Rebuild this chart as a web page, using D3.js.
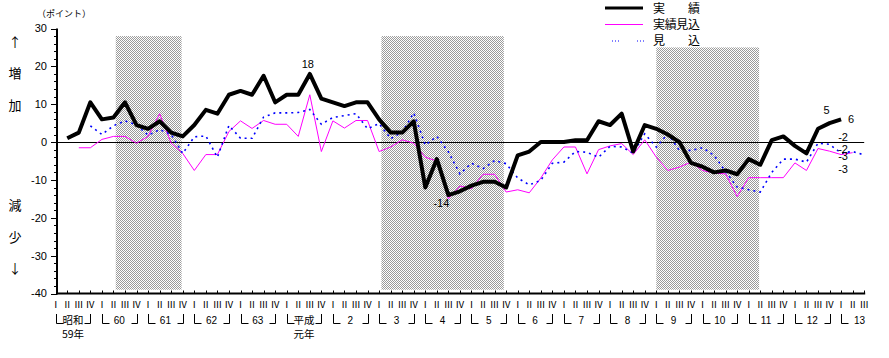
<!DOCTYPE html>
<html><head><meta charset="utf-8">
<script src="https://cdn.jsdelivr.net/npm/d3@7"></script>
<style>body{margin:0;background:#fff} svg{display:block}</style>
</head><body>
<svg id="c" width="889" height="358"></svg>
<script>
// ---- data ----
const eraYears = ["昭和","60","61","62","63","平成","2","3","4","5","6","7","8","9","10","11","12","13"];
const eraSub   = ["59年","","","","","元年","","","","","","","","","","","",""];
const quarterLabels = ["Ⅰ","Ⅱ","Ⅲ","Ⅳ"];
const quartersInLastYear = 3;
const yTicks = [30,20,10,0,-10,-20,-30,-40];

// 実績 (actual)
const actual = [null,1,2.5,10.5,6,6.5,10.5,4.5,3.5,5.5,2.5,1.5,4.5,8.5,7.5,12.5,13.5,12.5,17.5,10.5,12.5,12.5,18,11.5,10.5,9.5,10.5,10.5,6,2.5,2.5,5.5,-12,-4.5,-14,-13,-11.5,-10.5,-10.5,-12,-3.5,-2.5,0,0,0,0.5,0.5,5.5,4.5,7.5,-2.5,4.5,3.5,2,0,-5.5,-6.5,-8,-7.5,-8.5,-4.5,-6,0.5,1.5,-1,-3,3.5,5,6,null,null];
// 実績見込 (estimate)
const estimate = [null,null,-1.5,-1.5,0.7,1.5,1.5,-0.3,1.5,7.5,-0.3,-3,-7.5,-3.3,-3.3,2.8,5.6,3.6,5.7,4.7,4.7,1.5,12.5,-2.5,5.6,3.7,5.7,5.7,-2.5,-1.3,0.6,-0.3,-4,-5,-15,-11.6,-12.3,-8.5,-8.5,-13.2,-12.6,-13.4,-9.5,-4.7,-1.3,-1.3,-8.4,-2,-1,-0.4,-3.3,0.6,-4,-7.5,-6.6,-5.3,-7.5,-8.2,-8.4,-14.4,-9.4,-9.4,-9.4,-9.4,-5.5,-7.5,-1.7,-2.4,-3.3,-2.8,null];
// 見込 (forecast)
const forecast = [null,null,null,4.3,2,4.3,5.6,4.5,1.8,3.3,2,-3,1.4,1.6,-4,4.4,1,1,6.6,7.7,7.7,7.8,8.6,4.7,6.5,7,7.5,3.5,4.9,0.9,2.6,7.7,-0.8,1.5,-2.6,-8.4,-5.6,-7,-4.9,-5.7,-9.5,-11.3,-10.1,-5.6,-5.3,-2.5,-2.7,-4,-1.1,-1.3,-2.9,2.2,-1.3,2.2,-2.2,-2.2,-1.5,-3.5,-7.8,-11.9,-12.6,-13.2,-8,-4.5,-4.5,-5.3,-0.3,-0.6,-2.9,-2.5,-3.4];

// shaded periods (quarter index start, end, top value)
const recessions = [[5.2,10.9,28],[28.2,38.8,28],[52.0,60.9,25]];
const recessionBottom = -39;

// labels attached to points of the actual series
const actualLabels = [{t:"18", i:22},{t:"-14", i:34},{t:"5", i:67},{t:"6", i:68}];
// end labels (values)
const endLabels = [{t:"-2", v:1.3},{t:"-2", v:-1.8},{t:"-3", v:-3.7},{t:"-3", v:-7.1}];

const legendItems = [{t:"実　　績", k:"actual"},{t:"実績見込", k:"estimate"},{t:"見　　込", k:"forecast"}];

// ---- drawing ----
const N = actual.length;
const svg = d3.select("#c");
const x = d3.scaleLinear().domain([0, N-1]).range([55.7, 864.2]);
const y = d3.scaleLinear().domain([-40, 30]).range([293.5, 28.5]);
const JP = "'Noto Sans CJK JP','Noto Sans CJK SC',sans-serif";
const NUM = "'Liberation Sans',Arial,sans-serif";

const defs = svg.append("defs");
const pat = defs.append("pattern").attr("id","chk").attr("width",2).attr("height",2).attr("patternUnits","userSpaceOnUse");
pat.append("rect").attr("width",2).attr("height",2).attr("fill","#fff");
pat.append("rect").attr("width",1).attr("height",1).attr("fill","#9a9a9a");
pat.append("rect").attr("x",1).attr("y",1).attr("width",1).attr("height",1).attr("fill","#9a9a9a");

// shading
svg.append("g").selectAll("rect").data(recessions).join("rect")
  .attr("x", d=>x(d[0])).attr("width", d=>x(d[1])-x(d[0]))
  .attr("y", d=>y(d[2])).attr("height", d=>y(recessionBottom)-y(d[2]))
  .attr("fill","url(#chk)");

// zero line
svg.append("line").attr("x1",x(0)).attr("x2",x(N-1)).attr("y1",Math.round(y(0))+0.5).attr("y2",Math.round(y(0))+0.5)
  .attr("stroke","#000").attr("stroke-width",1);

// y axis
const yAxis = svg.append("g");
yAxis.append("line").attr("x1",57).attr("x2",57).attr("y1",y(30)).attr("y2",y(-40)+1).attr("stroke","#000").attr("stroke-width",2);
const minor = d3.range(-40, 31, 2);
yAxis.selectAll("line.mn").data(minor).join("line").attr("class","mn")
  .attr("x1", d=> d%10===0 ? 51 : 54).attr("x2",57)
  .attr("y1", d=>Math.round(y(d))+0.5).attr("y2", d=>Math.round(y(d))+0.5)
  .attr("stroke","#000").attr("stroke-width",1);
yAxis.selectAll("text").data(yTicks).join("text")
  .attr("x",47).attr("y",d=>y(d)).attr("dy","0.36em").attr("text-anchor","end")
  .attr("font-family",NUM).attr("font-size",11).text(d=>d);

// x axis
const xAxis = svg.append("g");
xAxis.append("line").attr("x1",56).attr("x2",x(N-1)+1).attr("y1",y(-40)).attr("y2",y(-40)).attr("stroke","#000").attr("stroke-width",2);
xAxis.selectAll("line.t").data(d3.range(N)).join("line").attr("class","t")
  .attr("x1",d=>Math.round(x(d))+0.5).attr("x2",d=>Math.round(x(d))+0.5)
  .attr("y1",y(-40)-3).attr("y2",y(-40)).attr("stroke","#000").attr("stroke-width",1);
xAxis.selectAll("text.q").data(d3.range(N)).join("text").attr("class","q")
  .attr("x",d=>x(d)).attr("y",308).attr("text-anchor","middle")
  .attr("font-family",JP).attr("font-size",9.5).text(d=>quarterLabels[d%4]);

// year brackets
const yrs = eraYears.map((t,k)=>({t, k, sub: eraSub[k], n: k===eraYears.length-1 ? quartersInLastYear : 4}));
const br = xAxis.append("g").attr("stroke","#000").attr("stroke-width",1).attr("fill","none");
br.selectAll("path.l").data(yrs).join("path").attr("class","l")
  .attr("d", d=>{const x0=Math.round(x(d.k*4))+0.5; return `M${x0},314V323.5H${x0+7}`;});
br.selectAll("path.r").data(yrs.filter(d=>d.n===4)).join("path").attr("class","r")
  .attr("d", d=>{const x1=Math.round(x(d.k*4+3))+0.5; return `M${x1},314V323.5H${x1-6}`;});
xAxis.selectAll("text.yr").data(yrs).join("text").attr("class","yr")
  .attr("x", d=> d.n===4 ? x(d.k*4+1.5) : x(d.k*4+1.6)).attr("y",324).attr("text-anchor","middle")
  .attr("font-family", d=>/^\d+$/.test(d.t)?NUM:JP).attr("font-size",d=>/^\d+$/.test(d.t)?10:10.5).text(d=>d.t);
xAxis.selectAll("text.sub").data(yrs.filter(d=>d.sub)).join("text").attr("class","sub")
  .attr("x", d=>x(d.k*4+1.5)).attr("y",338).attr("text-anchor","middle")
  .attr("font-family",JP).attr("font-size",10.5).text(d=>d.sub);

// lines
const line = d3.line().defined(d=>d!=null).x((d,i)=>x(i)).y(d=>y(d));
svg.append("path").datum(estimate).attr("d",line).attr("fill","none").attr("stroke","#ff00ff").attr("stroke-width",1);
svg.append("path").datum(forecast).attr("d",line).attr("fill","none").attr("stroke","#0000ff").attr("stroke-width",1.6).attr("stroke-dasharray","2,4");
svg.append("path").datum(actual).attr("d",line).attr("fill","none").attr("stroke","#000").attr("stroke-width",4).attr("stroke-linejoin","round");

// point labels
const off = {"18":[-2,-6], "-14":[-7,12], "5":[-3,-9], "6":[10,4]};
svg.selectAll("text.pl").data(actualLabels).join("text").attr("class","pl")
  .attr("x", d=>x(d.i)+off[d.t][0]).attr("y", d=>y(actual[d.i])+off[d.t][1]).attr("text-anchor","middle")
  .attr("font-family",NUM).attr("font-size",11).text(d=>d.t);
svg.selectAll("text.el").data(endLabels).join("text").attr("class","el")
  .attr("x", x(68)+2).attr("y", d=>y(d.v)).attr("dy","0.36em").attr("text-anchor","middle")
  .attr("font-family",NUM).attr("font-size",11).text(d=>d.t);

// y-axis side labels
svg.append("text").attr("x",37).attr("y",17).attr("font-family",JP).attr("font-size",9).text("（ポイント）");
const side = [["↑",42],["増",73],["加",105],["減",205],["少",237],["↓",268]];
svg.selectAll("text.sd").data(side).join("text").attr("class","sd")
  .attr("x",15).attr("y",d=>d[1]).attr("dy","0.36em").attr("text-anchor","middle")
  .attr("font-family",JP).attr("font-size",13).text(d=>d[0]);

// legend
const lg = svg.append("g");
const ly = [9, 25, 41];
lg.append("line").attr("x1",605).attr("x2",643).attr("y1",ly[0]-1).attr("y2",ly[0]-1).attr("stroke","#000").attr("stroke-width",3);
lg.append("line").attr("x1",605).attr("x2",643).attr("y1",ly[1]-0.5).attr("y2",ly[1]-0.5).attr("stroke","#ff00ff").attr("stroke-width",1);
[[612,620],[637,645]].forEach(s=>lg.append("line").attr("x1",s[0]).attr("x2",s[1]).attr("y1",ly[2]).attr("y2",ly[2])
  .attr("stroke","#0000ff").attr("stroke-width",1).attr("stroke-dasharray","1,2"));
lg.selectAll("text").data(legendItems).join("text")
  .attr("x",653).attr("y",(d,i)=>ly[i]).attr("dy","0.36em")
  .attr("font-family",JP).attr("font-size",12).attr("textLength",47).attr("lengthAdjust","spacing").text(d=>d.t);
</script>
</body></html>
